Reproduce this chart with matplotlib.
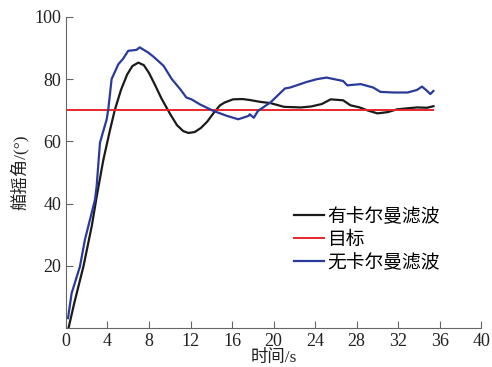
import matplotlib.pyplot as plt

# time (s) and yaw angle (deg)
t_kf = [0.25, 0.8, 1.7, 2.5, 2.95, 3.6, 4.25, 4.7, 5.3, 5.9, 6.4, 6.97, 7.5, 8.0, 8.6, 9.2, 10.0,
        10.7, 11.3, 11.8, 12.4, 13.0, 13.6, 14.2, 14.85, 15.3, 16.1, 17.0, 17.7, 18.7, 19.7,
        21.0, 22.6, 23.6, 24.65, 25.5, 26.7, 27.4, 28.3, 29.0, 30.0, 31.0, 31.9, 33.8, 34.8, 35.4]
y_kf = [0.0, 8.0, 20.0, 33.0, 42.0, 54.0, 63.7, 70.0, 76.5, 81.5, 84.2, 85.3, 84.5, 82.0, 78.0,
        73.8, 69.0, 65.2, 63.3, 62.7, 63.0, 64.3, 66.3, 69.0, 71.6, 72.5, 73.5, 73.6, 73.3, 72.7, 72.3,
        71.1, 70.9, 71.2, 72.0, 73.5, 73.2, 71.6, 70.9, 70.0, 69.0, 69.4, 70.3, 70.9, 70.8, 71.3]

t_target = [0.0, 35.4]
y_target = [70.0, 70.0]

t_raw = [0.2, 0.55, 1.35, 1.83, 2.8, 2.96, 3.28, 3.92, 4.08, 4.4, 5.05, 5.5, 6.0, 6.8, 7.1, 7.9,
         8.4, 9.4, 10.2, 11.0, 11.6, 12.1, 12.9, 14.2, 15.5, 16.6, 17.6, 17.7, 18.1, 18.5, 19.7,
         21.1, 21.6, 23.2, 24.2, 25.1, 26.7, 27.1, 28.4, 29.6, 30.3, 31.6, 32.9, 33.8, 34.3,
         34.8, 35.1, 35.4]
y_raw = [3.2, 11.2, 19.8, 28.4, 41.3, 45.6, 59.6, 67.0, 70.3, 80.0, 84.8, 86.5, 89.1, 89.4, 90.2,
         88.6, 87.3, 84.3, 80.0, 76.8, 74.1, 73.5, 71.9, 69.8, 68.2, 67.1, 68.2, 68.7, 67.6, 69.8,
         72.5, 77.0, 77.3, 79.1, 80.0, 80.5, 79.4, 78.0, 78.4, 77.3, 75.9, 75.7, 75.7, 76.5, 77.6,
         76.2, 75.2, 76.2]

plt.rcParams['font.family'] = ['Liberation Serif', 'Noto Sans CJK SC']

fig = plt.figure(figsize=(4.92, 3.67), dpi=100)
ax = fig.add_axes([0.134, 0.106, 0.844, 0.848])

ax.plot(t_kf, y_kf, color='#1a1a1a', lw=1.6, label='有卡尔曼滤波')
ax.plot(t_target, y_target, color='#e8262a', lw=1.4, label='目标')
ax.plot(t_raw, y_raw, color='#2a3a9a', lw=1.6, label='无卡尔曼滤波')

ax.set_xlim(0, 40)
ax.set_ylim(0, 100)
ax.set_xticks(range(0, 41, 4))
ax.set_yticks(range(20, 101, 20))
ax.spines['top'].set_visible(False)
ax.spines['right'].set_visible(False)
for s in ['left', 'bottom']:
    ax.spines[s].set_color('#666666')
ax.tick_params(direction='in', colors='#666666', labelcolor='#222222', labelsize=13, length=5)

ax.set_xlabel('时间/s', fontsize=12.5, color='#222222', labelpad=0)
ax.set_ylabel('艏摇角/(°)', fontsize=12.5, color='#222222', labelpad=4)

ax.legend(loc='upper left', bbox_to_anchor=(0.53, 0.41), frameon=False, fontsize=13.5,
          handlelength=1.6, handletextpad=0.2, labelspacing=0.3, borderaxespad=0)

fig.savefig('out.png', dpi=100)
